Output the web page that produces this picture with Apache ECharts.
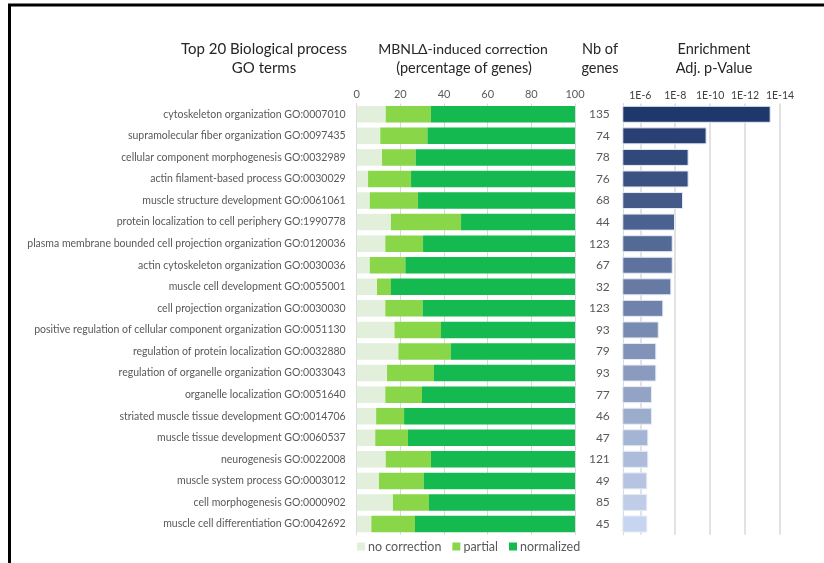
<!DOCTYPE html>
<html><head><meta charset="utf-8">
<script src="https://cdn.jsdelivr.net/npm/echarts@6/dist/echarts.min.js"></script>
<style>html,body{margin:0;padding:0;background:#fff}#c{width:824px;height:563px}</style>
</head><body><div id="c"></div>
<script>
const categories = [
 'cytoskeleton organization GO:0007010',
 'supramolecular fiber organization GO:0097435',
 'cellular component morphogenesis GO:0032989',
 'actin filament-based process GO:0030029',
 'muscle structure development GO:0061061',
 'protein localization to cell periphery GO:1990778',
 'plasma membrane bounded cell projection organization GO:0120036',
 'actin cytoskeleton organization GO:0030036',
 'muscle cell development GO:0055001',
 'cell projection organization GO:0030030',
 'positive regulation of cellular component organization GO:0051130',
 'regulation of protein localization GO:0032880',
 'regulation of organelle organization GO:0033043',
 'organelle localization GO:0051640',
 'striated muscle tissue development GO:0014706',
 'muscle tissue development GO:0060537',
 'neurogenesis GO:0022008',
 'muscle system process GO:0003012',
 'cell morphogenesis GO:0000902',
 'muscle cell differentiation GO:0042692'
];
const noCorrection = [13.3,10.8,11.6,5.2,6.0,15.7,13.1,6.0,9.3,13.1,17.3,19.1,13.9,13.1,8.9,8.5,13.3,10.2,16.6,6.7];
const partial      = [20.7,21.6,15.4,19.7,22.1,32.1,17.3,16.3,6.4,17.1,21.3,24.0,21.5,16.8,12.8,15.0,20.7,20.5,16.5,20.0];
const normalized   = [66.0,67.6,73.0,75.1,71.9,52.2,69.6,77.7,84.3,69.8,61.4,56.9,64.6,70.1,78.3,76.5,66.0,69.3,66.9,73.3];
const nbGenes = [135,74,78,76,68,44,123,67,32,123,93,79,93,77,46,47,121,49,85,45];
// enrichment as -log10(adj. p-value)
const negLog10P = [13.47,9.80,8.77,8.77,8.45,7.99,7.86,7.86,7.78,7.32,7.06,6.92,6.92,6.67,6.67,6.46,6.46,6.40,6.40,6.40];
const pctTicks = [0,20,40,60,80,100];

const FONT = 'Lato';
const TXT = '#595959';
const dark = [0x1f,0x38,0x6c], light = [0xc8,0xd5,0xf0];
function blend(t){return 'rgb('+dark.map((d,i)=>Math.round(d+(light[i]-d)*t)).join(',')+')';}

const gTop = 103.5, gHeight = 431.3;
const chart = echarts.init(document.getElementById('c'));
const legendNames = ['no correction','partial','normalized'];
const greens = ['#e2efda','#89d648','#14b94f'];
const pctData = [noCorrection, partial, normalized];
const TF = '14.5px ' + FONT, TC = '#262626';

const option = {
  animation:false,
  textStyle:{fontFamily:FONT},
  grid:[
    {left:356.7, top:gTop, width:218.3, height:gHeight},
    {left:622.8, top:gTop, width:174.6, height:gHeight},
    {left:640.3, top:gTop, width:139.7, height:gHeight}
  ],
  legend:{
    data:legendNames, left:352, top:535, itemWidth:8, itemHeight:8, itemGap:11,
    icon:'rect', textStyle:{color:TXT, fontSize:12.5, fontFamily:FONT, padding:[0,0,0,-2]}
  },
  xAxis:[
    {gridIndex:0, type:'value', position:'top', min:0, max:100, interval:20,
     axisLine:{show:false}, axisTick:{show:false},
     axisLabel:{color:TXT, fontSize:11, margin:4},
     splitLine:{lineStyle:{color:'#d9d9d9'}}},
    {gridIndex:1, type:'value', position:'top', min:5, max:15,
     axisLine:{show:false}, axisTick:{show:false}, axisLabel:{show:false}, splitLine:{show:false}},
    {gridIndex:2, type:'value', position:'top', min:6, max:14, interval:2,
     axisLine:{show:false}, axisTick:{show:false},
     axisLabel:{color:'#404040', fontSize:10.5, margin:2, formatter:v=>'1E-'+v},
     splitLine:{lineStyle:{color:'#d9d9d9', width:1.5}}}
  ],
  yAxis:[
    {gridIndex:0, type:'category', data:categories, inverse:true,
     axisLine:{show:true, lineStyle:{color:'#d9d9d9'}}, axisTick:{show:false},
     axisLabel:{color:TXT, fontSize:10.5, margin:11}},
    {gridIndex:1, type:'category', data:categories, inverse:true,
     axisLine:{show:true, lineStyle:{color:'#d9d9d9'}}, axisTick:{show:false},
     axisLabel:{color:TXT, fontSize:12, margin:13, formatter:(v,i)=>String(nbGenes[i])}},
    {gridIndex:2, type:'category', data:categories, inverse:true, show:false}
  ],
  series: legendNames.map((n,k)=>({
    name:n, type:'bar', stack:'pct', xAxisIndex:0, yAxisIndex:0, barWidth:16.5,
    itemStyle:{color:greens[k]}, data:pctData[k]
  })).concat([{
    name:'enrichment', type:'bar', xAxisIndex:1, yAxisIndex:1, barWidth:17,
    data:negLog10P.map((v,i)=>({value:v, itemStyle:{color:blend(i/19)}})),
    itemStyle:{borderColor:'#e6ebf5', borderWidth:1}
  }]),
  graphic:[
    {type:'rect', shape:{x:9.5,y:5,width:830,height:600}, style:{fill:'none', stroke:'#000', lineWidth:3}, silent:true},
    {type:'text', x:264, y:49, style:{text:'Top 20 Biological process', align:'center', verticalAlign:'middle', font:'15px '+FONT, fill:TC}},
    {type:'text', x:264, y:68, style:{text:'GO terms', align:'center', verticalAlign:'middle', font:'15px '+FONT, fill:TC}},
    {type:'text', x:463, y:49, style:{text:'MBNLΔ-induced correction', align:'center', verticalAlign:'middle', font:'14px '+FONT, fill:TC}},
    {type:'text', x:464, y:68, style:{text:'(percentage of genes)', align:'center', verticalAlign:'middle', font:'14.5px '+FONT, fill:TC}},
    {type:'text', x:600, y:49, style:{text:'Nb of', align:'center', verticalAlign:'middle', font:TF, fill:TC}},
    {type:'text', x:600, y:68, style:{text:'genes', align:'center', verticalAlign:'middle', font:TF, fill:TC}},
    {type:'text', x:714, y:49, style:{text:'Enrichment', align:'center', verticalAlign:'middle', font:TF, fill:TC}},
    {type:'text', x:714, y:68, style:{text:'Adj. p-Value', align:'center', verticalAlign:'middle', font:TF, fill:TC}}
  ]
};
chart.setOption(option);
</script></body></html>
